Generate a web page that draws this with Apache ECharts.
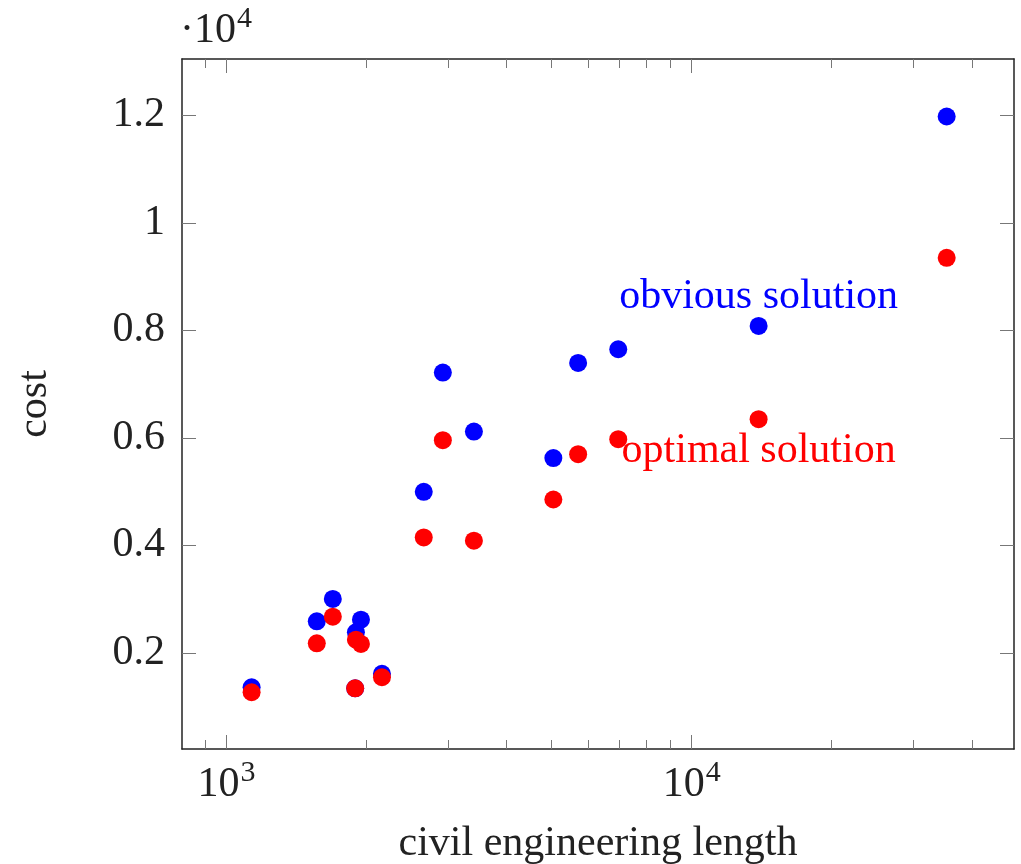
<!DOCTYPE html>
<html>
<head>
<meta charset="utf-8">
<script src="https://cdn.jsdelivr.net/npm/echarts@6/dist/echarts.min.js"></script>
<style>
  html, body { margin: 0; padding: 0; background: #fff; }
  #chart { width: 1021px; height: 864px; }
</style>
</head>
<body>
<div id="chart"></div>
<script>
// civil engineering length per instance
var lengths = [1132, 1563, 1692, 1945, 1897, 1890, 2158, 2654, 2917, 3402, 5041, 5699, 6951, 13926, 35326];
var obviousCost = [1359, 2586, 3002, 2617, 2381, 1340, 1608, 4996, 7214, 6117, 5623, 7394, 7649, 8082, 11980];
var optimalCost = [1266, 2177, 2673, 2165, 2245, 1340, 1545, 4147, 5957, 4086, 4853, 5697, 5976, 6348, 9351];

var xMajorTicks = [1000, 10000];
var xMinorTicks = [900, 2000, 3000, 4000, 5000, 6000, 7000, 8000, 9000, 20000, 30000, 40000];
var yTickValues = [2000, 4000, 6000, 8000, 10000, 12000];
var yTickLabels = ['0.2', '0.4', '0.6', '0.8', '1', '1.2'];

var labelAt = 13; // index of the point carrying the series labels

var font = 'Liberation Serif';
var fs = 42;
var xMin = 802, xMax = 49300, yMin = 210, yMax = 13050;

// "10" with a raised exponent
var powRich = {
  n: { fontFamily: font, fontSize: fs, lineHeight: 54, color: '#222', fill: '#222' },
  s: { fontFamily: font, fontSize: 30, lineHeight: 30, color: '#222', fill: '#222', verticalAlign: 'top', padding: [0, 0, 0, 1] }
};

function pairs(ys) {
  return lengths.map(function(x, i) { return [x, ys[i]]; });
}

function xAxis(pos, ticks, len, labels) {
  return {
    type: 'log',
    logBase: 10,
    position: pos,
    min: xMin,
    max: xMax,
    axisLine: { show: labels, lineStyle: { color: '#222', width: 1.5 } },
    axisTick: { show: true, inside: true, length: len, customValues: ticks,
      lineStyle: { color: '#777', width: 1 } },
    axisLabel: {
      show: labels && pos === 'bottom',
      customValues: xMajorTicks,
      margin: 9,
      formatter: function(v) {
        return '{n|10}{s|' + Math.round(Math.log10(v)) + '}';
      },
      rich: powRich
    },
    splitLine: { show: false },
    minorTick: { show: false }
  };
}

function yAxis(pos) {
  return {
    type: 'value',
    position: pos,
    min: yMin,
    max: yMax,
    axisLine: { show: true, lineStyle: { color: '#222', width: 1.5 } },
    axisTick: { show: true, inside: true, length: 14, customValues: yTickValues,
      lineStyle: { color: '#777', width: 1 } },
    axisLabel: {
      show: pos === 'left',
      customValues: yTickValues,
      margin: 17,
      fontFamily: font,
      fontSize: fs,
      color: '#222',
      formatter: function(v) { return yTickLabels[yTickValues.indexOf(v)]; }
    },
    splitLine: { show: false }
  };
}

var xAxes = [
  xAxis('bottom', xMajorTicks, 14, true),
  xAxis('bottom', xMinorTicks, 9, false),
  xAxis('top', xMajorTicks, 14, true),
  xAxis('top', xMinorTicks, 9, false)
];
xAxes[0].name = 'civil engineering length';
xAxes[0].nameLocation = 'middle';
xAxes[0].nameGap = 74;
xAxes[0].nameTextStyle = { fontFamily: font, fontSize: fs, color: '#222' };

var yAxes = [yAxis('left'), yAxis('right')];
yAxes[0].name = 'cost';
yAxes[0].nameLocation = 'middle';
yAxes[0].nameGap = 126;
yAxes[0].nameTextStyle = { fontFamily: font, fontSize: fs, color: '#222' };

function seriesOf(name, ys, color, labelPos, dist) {
  return {
    name: name,
    type: 'scatter',
    symbol: 'circle',
    symbolSize: 18,
    itemStyle: { color: color, opacity: 1 },
    data: pairs(ys),
    markPoint: {
      symbol: 'circle',
      symbolSize: 0,
      data: [{ coord: [lengths[labelAt], ys[labelAt]] }],
      label: {
        show: true,
        position: labelPos,
        distance: dist,
        formatter: name,
        fontFamily: font,
        fontSize: fs,
        color: color
      }
    }
  };
}

var chart = echarts.init(document.getElementById('chart'), null, { renderer: 'canvas' });
chart.setOption({
  animation: false,
  backgroundColor: '#fff',
  grid: { left: 182, right: 7, top: 59, bottom: 115, outerBoundsMode: 'none' },
  xAxis: xAxes,
  yAxis: yAxes,
  graphic: [{
    type: 'text',
    left: 180,
    top: 4,
    style: {
      text: '{n|·10}{s|4}',
      rich: powRich
    }
  }],
  series: [
    seriesOf('obvious solution', obviousCost, '#0000ff', 'top', 8),
    seriesOf('optimal solution', optimalCost, '#ff0000', 'bottom', 11)
  ]
});
</script>
</body>
</html>
